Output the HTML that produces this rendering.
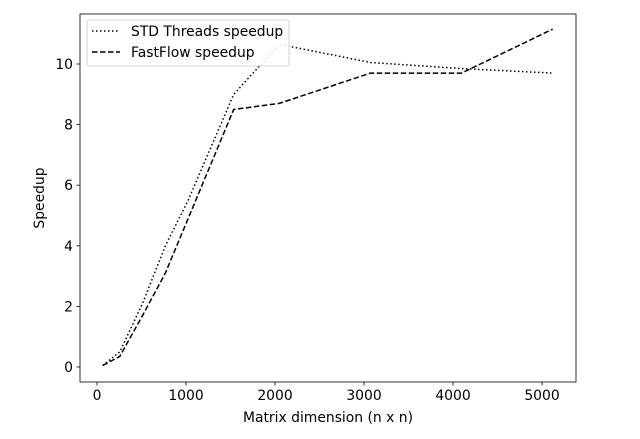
<!DOCTYPE html>
<html><head><meta charset="utf-8"><style>
body{margin:0;background:#fff;}
svg text{font-family:"DejaVu Sans","Liberation Sans",sans-serif;font-size:13.9px;fill:#000;}
</style></head><body>
<svg id="chart" width="640" height="434">
<rect x="80" y="14" width="496" height="368" fill="none" stroke="#000" stroke-width="0.8"/>
<g id="g"></g>
<text x="328" y="422" text-anchor="middle">Matrix dimension (n x n)</text>
<text transform="translate(44,198) rotate(-90)" text-anchor="middle">Speedup</text>
<g>
<rect x="87" y="20" width="202" height="46" rx="2" fill="#fff" fill-opacity="0.9" stroke="#ccc" stroke-width="0.8"/>
<line x1="92" x2="120" y1="31" y2="31" stroke="#000" stroke-width="1.5" stroke-dasharray="1.5,2.5"/>
<text x="131" y="36">STD Threads speedup</text>
<line x1="92" x2="120" y1="52" y2="52" stroke="#000" stroke-width="1.5" stroke-dasharray="5.5,2.5"/>
<text x="131" y="57">FastFlow speedup</text>
</g>
</svg>
<script>
const dims = [64,256,512,768,1024,1536,2048,3072,4096,5120];
const stdSpeedup = [0.05,0.5,2.1,4.0,5.5,9.0,10.65,10.05,9.85,9.7];
const ffSpeedup = [0.05,0.35,1.7,3.1,4.9,8.5,8.7,9.7,9.7,11.15];
const xTicks = [0,1000,2000,3000,4000,5000];
const yTicks = [0,2,4,6,8,10];
const X = v => 97 + v*0.089;
const Y = v => 367 - v*30.3;
const g = document.getElementById('g');
const NS = 'http://www.w3.org/2000/svg';
function mk(t, a){const e=document.createElementNS(NS,t);for(const k in a)e.setAttribute(k,a[k]);g.appendChild(e);return e;}
xTicks.forEach(v=>{
  const l=mk('line',{x1:X(v),x2:X(v),y1:382,y2:385.5,stroke:'#000','stroke-width':0.8});
  
  
  const t=mk('text',{x:X(v),y:400,'text-anchor':'middle'});t.textContent=v;
  
  
});
yTicks.forEach(v=>{
  const l=mk('line',{x1:76.5,x2:80,y1:Y(v),y2:Y(v),stroke:'#000','stroke-width':0.8});
  
  
  const t=mk('text',{x:73,y:Y(v)+5,'text-anchor':'end'});t.textContent=v;
  
  
});
const p1=mk('polyline',{points:dims.map((d,i)=>X(d)+','+Y(stdSpeedup[i])).join(' '),fill:'none',stroke:'#000','stroke-width':1.5,'stroke-dasharray':'1.5,2.5'});


const p2=mk('polyline',{points:dims.map((d,i)=>X(d)+','+Y(ffSpeedup[i])).join(' '),fill:'none',stroke:'#000','stroke-width':1.5,'stroke-dasharray':'5.5,2.5'});


</script>
</body></html>
